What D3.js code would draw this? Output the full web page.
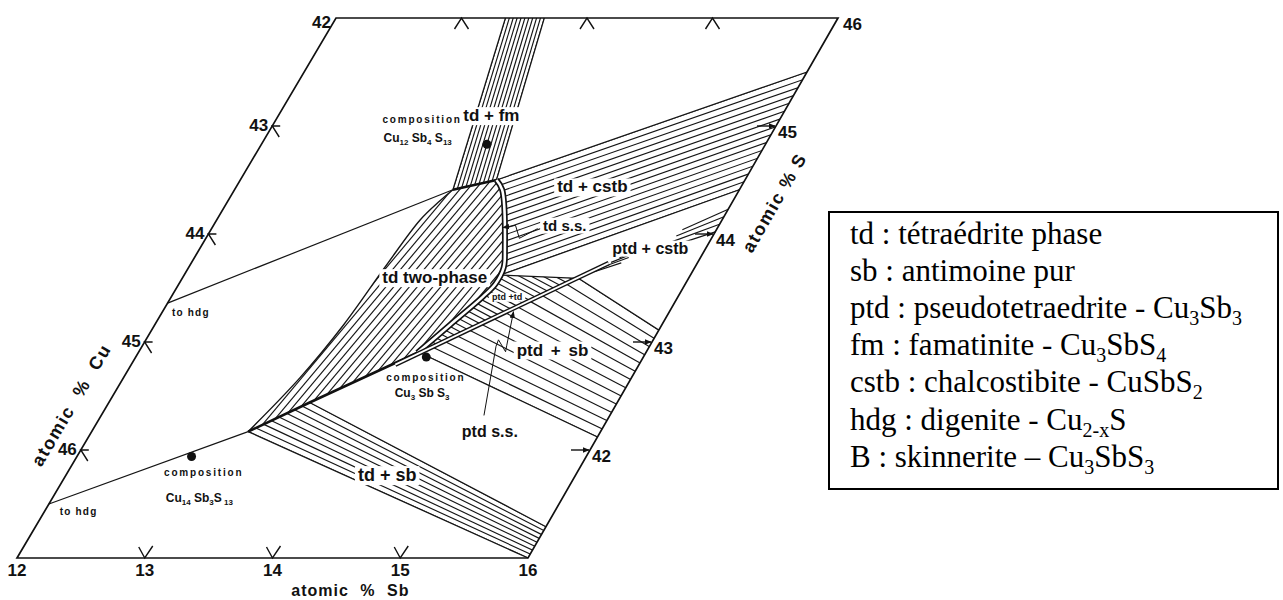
<!DOCTYPE html>
<html><head><meta charset="utf-8">
<script src="https://cdn.jsdelivr.net/npm/d3@7/dist/d3.min.js"></script>
<style>html,body{margin:0;padding:0;background:#fff;} svg{display:block;}</style>
</head><body>
<svg id="chart" width="1283" height="600"></svg>
<script>
// ===== DATA : composition coordinates [atomic % Sb, atomic % S] =====
const sbTicks      = [12, 13, 14, 15, 16];
const sbInnerTicks = [13, 14, 15];
const sTicks       = [42, 43, 44, 45];
const cuTicks      = [43, 44, 45, 46];      // atomic % Cu along the Sb = 12 edge (Cu = 88 - S)
const cornerCu     = 42;
const cornerS      = 46;

const compositions = [
  {id: "Cu12Sb4S13", sb: 13.79, s: 44.83},
  {id: "Cu3SbS3",    sb: 14.29, s: 42.86},
  {id: "Cu14Sb4S13", sb: 12.90, s: 41.94}
];

// phase boundaries
const hdgUpper  = [[12.00, 43.36], [13.73, 44.41]];
const hdgLower  = [[12.00, 41.50], [13.23, 42.17]];
const tdTwoLeft = [[13.23, 42.17], [13.39, 42.67], [13.49, 43.16], [13.55, 43.69], [13.61, 44.13], [13.68, 44.31], [13.73, 44.41]];
const tdTop     = [[13.73, 44.41], [14.03, 44.50]];
const tdssCurve = [[14.03, 44.50], [14.12, 44.41], [14.42, 43.85], [14.49, 43.69], [14.50, 43.54], [14.46, 43.42], [14.33, 43.16], [14.20, 42.90]];
const tdLower   = [[14.20, 42.90], [13.58, 42.44], [13.23, 42.17]];
const ptdSS     = [[14.08, 42.79], [15.30, 43.73]];
const tdPtdTie  = [[14.50, 43.62], [15.13, 43.59]];

// tie-line bundles (first and last tie line of each two-phase field)
const fmTies    = {from: [[13.73, 44.41], [13.35, 46.00]], to: [[14.03, 44.50], [13.66, 46.00]], n: 10};
const cstbTies  = {from: [[14.03, 44.50], [16.00, 45.50]], to: [[14.50, 43.62], [16.00, 44.41]], n: 15};
const sbTies    = {from: [[13.23, 42.17], [16.00, 41.00]], to: [[13.58, 42.44], [16.00, 41.29]], n: 8};
const ptdSbTies = {from: [[15.13, 43.59], [16.00, 43.11]], to: [[14.22, 42.90], [16.00, 42.12]], n: 13};
const ptdCstbTies = [
  [[15.14, 43.61], [16.00, 44.02]],
  [[15.19, 43.65], [16.00, 44.09]],
  [[15.24, 43.69], [16.00, 44.16]],
  [[15.29, 43.73], [16.00, 44.23]]
];

// fields
const fmPoly    = [[13.73, 44.41], [14.03, 44.50], [13.66, 46.00], [13.35, 46.00]];
const cstbPoly  = [[14.03, 44.50], [14.12, 44.41], [14.42, 43.85], [14.49, 43.69], [14.50, 43.62], [16.00, 44.41], [16.00, 45.50]];
const sbPoly    = [[13.23, 42.17], [13.58, 42.44], [16.00, 41.29], [16.00, 41.00]];
const ptdSbPoly = [[14.22, 42.90], [15.13, 43.59], [16.00, 43.11], [16.00, 42.12]];
const ptdTdPoly = [[14.20, 42.90], [14.33, 43.16], [14.46, 43.42], [14.50, 43.54], [14.50, 43.62], [15.13, 43.59], [14.22, 42.90]];
const tdTwoPoly = tdTwoLeft.concat(tdssCurve, [[13.58, 42.44]]);

// labels placed in composition coordinates
const fieldLabels = [
  {text: "td + fm",      sb: 13.69, s: 45.10, size: 17},
  {text: "td + cstb",    sb: 14.82, s: 44.44, size: 17},
  {text: "td s.s.",      sb: 14.78, s: 44.08, size: 15},
  {text: "ptd + cstb",   sb: 15.56, s: 43.87, size: 16},
  {text: "td two-phase", sb: 13.99, s: 43.60, size: 17},
  {text: "ptd +td",      sb: 14.65, s: 43.42, size: 9},
  {text: "ptd + sb",     sb: 15.25, s: 42.93, size: 17, ws: 3},
  {text: "td + sb",      sb: 14.52, s: 41.77, size: 18}
];
const plainLabels = [
  {text: "ptd s.s.", sb: 15.13, s: 42.17, size: 16, anchor: "middle"},
  {text: "to hdg",   sb: 12.08, s: 43.27, size: 10, anchor: "start", ls: 1.2},
  {text: "to hdg",   sb: 12.12, s: 41.43, size: 10, anchor: "start", ls: 1.2}
];
const compLabels = [
  {sb: 13.16, s: 45.06, fsb: 13.21, fs: 44.89, parts: [["Cu",0],["12",1],[" Sb",0],["4",1],[" S",0],["13",1]]},
  {sb: 14.38, s: 42.67, fsb: 14.42, fs: 42.53, parts: [["Cu",0],["3",1],[" Sb S",0],["3",1]]},
  {sb: 13.07, s: 41.79, fsb: 13.15, fs: 41.56, parts: [["Cu",0],["14",1],[" Sb",0],["3",1],["S",0],[" 13",1]]}
];
const tdssLeader  = [[14.58, 44.05], [14.48, 43.96], [14.39, 44.08], [14.30, 44.06]];
const ptdssLeader = [[15.01, 42.32], [14.79, 42.96], [14.78, 43.02], [14.89, 42.91], [14.87, 42.97], [14.77, 43.28]];

// legend
const legendAbbr    = ["td", "sb", "ptd", "fm", "cstb", "hdg", "B"];
const legendName    = ["tétraédrite phase", "antimoine pur", "pseudotetraedrite", "famatinite", "chalcostibite", "digenite", "skinnerite"];
const legendSep     = ["", "", " - ", " - ", " - ", " - ", " \u2013 "];
const legendFormula = [
  [], [],
  [["Cu",0],["3",1],["Sb",0],["3",1]],
  [["Cu",0],["3",1],["SbS",0],["4",1]],
  [["CuSbS",0],["2",1]],
  [["Cu",0],["2-x",1],["S",0]],
  [["Cu",0],["3",1],["SbS",0],["3",1]]
];

// ===== DRAWING =====
const svg = d3.select("#chart");
const SANS = "'Liberation Sans', Arial, Helvetica, sans-serif";
const SERIF = "'Liberation Serif', 'Times New Roman', Times, serif";

const uS   = d3.scaleLinear().domain([12, 16]).range([0, 1]);
const vS   = d3.scaleLinear().domain([41, 46]).range([0, 1]);
const xBot = d3.scaleLinear().domain([0, 1]).range([17, 528]);
const xTop = d3.scaleLinear().domain([0, 1]).range([336, 838]);
const yS   = d3.scaleLinear().domain([41, 46]).range([558, 18]);
const P = (sb, s) => { const t = uS(sb), v = vS(s); const a = xBot(t), b = xTop(t); return [a + (b - a) * v, yS(s)]; };
const pathOf  = d3.line().x(d => P(d[0], d[1])[0]).y(d => P(d[0], d[1])[1]);
const curveOf = d3.line().x(d => P(d[0], d[1])[0]).y(d => P(d[0], d[1])[1]).curve(d3.curveCatmullRom.alpha(0.5));

const defs = svg.append("defs");
defs.append("marker").attr("id", "arr").attr("viewBox", "0 0 10 10").attr("refX", 9).attr("refY", 5)
  .attr("markerWidth", 7).attr("markerHeight", 7).attr("markerUnits", "userSpaceOnUse").attr("orient", "auto")
  .append("path").attr("d", "M0,1 L10,5 L0,9 Z").attr("fill", "#111");
let clipN = 0;
function clip(poly) {
  const id = "clip" + (clipN++);
  defs.append("clipPath").attr("id", id).append("path").attr("d", pathOf(poly) + "Z");
  return `url(#${id})`;
}

const gH = svg.append("g").attr("stroke", "#151515").attr("stroke-width", 1.15).attr("fill", "none");
const gB = svg.append("g").attr("stroke", "#151515").attr("stroke-width", 1.2).attr("fill", "none");
const gBg = svg.append("g");
const gC = svg.append("g").attr("fill", "none");
const gT = svg.append("g").attr("font-family", SANS).attr("fill", "#111");
const gF = svg.append("g");

function tieHatch(b, poly) {
  const lines = d3.range(b.n + 1).map(i => {
    const t = i / b.n;
    return [0, 1].map(k => [b.from[k][0] + (b.to[k][0] - b.from[k][0]) * t, b.from[k][1] + (b.to[k][1] - b.from[k][1]) * t]);
  });
  const ext = lines.map(([a, c]) => [
    [a[0] - (c[0] - a[0]) * 0.2, a[1] - (c[1] - a[1]) * 0.2],
    [c[0] + (c[0] - a[0]) * 0.05, c[1] + (c[1] - a[1]) * 0.05]]);
  gH.append("g").attr("clip-path", clip(poly)).selectAll("path").data(ext).join("path").attr("d", pathOf);
}
function angleHatch(poly, ang, sp) {
  const pts = poly.map(d => P(d[0], d[1]));
  const r = ang * Math.PI / 180, dx = Math.cos(r), dy = Math.sin(r), nx = -dy, ny = dx;
  const ns = pts.map(p => p[0] * nx + p[1] * ny);
  const segs = d3.range(Math.ceil(d3.min(ns) / sp), Math.floor(d3.max(ns) / sp) + 1).map(k => {
    const c = k * sp;
    return [nx * c - dx * 1600, ny * c - dy * 1600, nx * c + dx * 1600, ny * c + dy * 1600];
  });
  gH.append("g").attr("clip-path", clip(poly)).selectAll("line").data(segs).join("line")
    .attr("x1", d => d[0]).attr("y1", d => d[1]).attr("x2", d => d[2]).attr("y2", d => d[3]);
}

// hatching of two-phase fields
tieHatch(fmTies, fmPoly);
tieHatch(cstbTies, cstbPoly);
tieHatch(sbTies, sbPoly);
tieHatch(ptdSbTies, ptdSbPoly);
angleHatch(tdTwoPoly, -50, 6);
angleHatch(ptdTdPoly, 28, 5.5);
// ptd + cstb: tie lines drawn only near their ends
ptdCstbTies.forEach(([a, c]) => {
  const pa = P(a[0], a[1]), pc = P(c[0], c[1]);
  const L = (f) => [pa[0] + (pc[0] - pa[0]) * f, pa[1] + (pc[1] - pa[1]) * f];
  [[0.1, 0.3], [0.62, 1]].forEach(([f0, f1]) => {
    const p0 = L(f0), p1 = L(f1);
    gH.append("line").attr("x1", p0[0]).attr("y1", p0[1]).attr("x2", p1[0]).attr("y2", p1[1]);
  });
});

// boundaries
[hdgUpper, hdgLower, fmTies.from, fmTies.to, cstbTies.from, cstbTies.to, sbTies.from, sbTies.to,
 ptdSbTies.from, ptdSbTies.to, tdPtdTie].forEach(l => gB.append("path").attr("d", pathOf(l)));
gB.append("path").attr("d", curveOf(tdTwoLeft)).attr("stroke-width", 1.4);

// field labels with white backing
function labelAt(g, d, bold) {
  const p = P(d.sb, d.s);
  const t = g.append("text").attr("x", p[0]).attr("y", p[1]).attr("dy", "0.35em")
    .attr("text-anchor", d.anchor || "middle").attr("font-size", d.size)
    .attr("font-weight", d.weight || (bold ? "bold" : "normal")).text(d.text);
  if (d.ws) t.attr("word-spacing", d.ws);
  if (d.ls) t.attr("letter-spacing", d.ls);
  return t;
}
fieldLabels.forEach(d => {
  const t = labelAt(gT, d, true);
  const bb = t.node().getBBox();
  gBg.append("rect").attr("x", bb.x - 3).attr("y", bb.y + 1).attr("width", bb.width + 6).attr("height", bb.height - 1).attr("fill", "#fff");
});
plainLabels.forEach(d => labelAt(gT, d, true));

// td s.s. (double line), td lower limit, ptd s.s.
gC.append("path").attr("d", pathOf(tdTop)).attr("stroke", "#111").attr("stroke-width", 2.6);
gC.append("path").attr("d", curveOf(tdssCurve)).attr("stroke", "#111").attr("stroke-width", 6).attr("stroke-linejoin", "round");
gC.append("path").attr("d", curveOf(tdssCurve)).attr("stroke", "#fff").attr("stroke-width", 2.6).attr("stroke-linejoin", "round");
gC.append("path").attr("d", pathOf(tdLower)).attr("stroke", "#111").attr("stroke-width", 2.6);
gC.append("path").attr("d", pathOf(ptdSS)).attr("stroke", "#111").attr("stroke-width", 4.6);
gC.append("path").attr("d", pathOf(ptdSS)).attr("stroke", "#fff").attr("stroke-width", 1.8);
gC.append("path").attr("d", pathOf(tdssLeader)).attr("stroke", "#111").attr("stroke-width", 1).attr("marker-end", "url(#arr)");
gC.append("path").attr("d", pathOf(ptdssLeader)).attr("stroke", "#111").attr("stroke-width", 1).attr("marker-end", "url(#arr)");

// composition dots and labels
gT.selectAll("circle.dot").data(compositions).join("circle").attr("class", "dot")
  .attr("cx", d => P(d.sb, d.s)[0]).attr("cy", d => P(d.sb, d.s)[1]).attr("r", 4.5).attr("fill", "#111");
function rich(sel, parts, subSize, shift) {
  let cur = 0;
  parts.forEach(([t, isSub]) => {
    const ts = sel.append("tspan").text(t);
    const target = isSub ? shift : 0;
    if (target !== cur) { ts.attr("dy", target - cur); cur = target; }
    if (isSub) ts.attr("font-size", subSize);
  });
}
compLabels.forEach(d => {
  const p = P(d.sb, d.s);
  gT.append("text").attr("x", p[0]).attr("y", p[1]).attr("dy", "0.35em").attr("text-anchor", "middle")
    .attr("font-size", 10).attr("font-weight", "bold").attr("letter-spacing", 1.8).text("composition");
  const f = P(d.fsb, d.fs);
  const t = gT.append("text").attr("x", f[0]).attr("y", f[1] + 4).attr("text-anchor", "middle")
    .attr("font-size", 12).attr("font-weight", "bold");
  rich(t, d.parts, 8, 3);
});

// frame
gF.append("path").attr("d", pathOf([[12, 41], [16, 41], [16, 46], [12, 46]]) + "Z")
  .attr("fill", "none").attr("stroke", "#111").attr("stroke-width", 1.7);
const gTick = gF.append("g").attr("fill", "none").attr("stroke", "#111").attr("stroke-width", 1.4);
sbInnerTicks.forEach(sb => {
  const [x, y] = P(sb, 41);
  gTick.append("path").attr("d", `M${x - 6},${y - 11}L${x},${y}L${x + 8},${y - 12}`);
  const [xt, yt] = P(sb, 46);
  gTick.append("path").attr("d", `M${xt - 7},${yt + 11}L${xt},${yt}L${xt + 7},${yt + 11}`);
});
sTicks.forEach(s => {
  const [x, y] = P(12, s);
  gTick.append("path").attr("d", `M${x + 8},${y}L${x},${y}L${x + 7},${y + 11}`);
  const [xr, yr] = P(16, s);
  gTick.append("path").attr("d", `M${xr - 19},${yr}L${xr - 1},${yr}`).attr("marker-end", "url(#arr)");
});

const gN = gF.append("g").attr("font-family", SANS).attr("font-weight", "bold").attr("font-size", 17).attr("fill", "#111");
sbTicks.forEach(sb => { const [x, y] = P(sb, 41); gN.append("text").attr("x", x).attr("y", y + 18).attr("text-anchor", "middle").text(sb); });
cuTicks.forEach(cu => { const [x, y] = P(12, 88 - cu); gN.append("text").attr("x", x - 4).attr("y", y + 5).attr("text-anchor", "end").text(cu); });
{ const [x, y] = P(12, 46); gN.append("text").attr("x", x - 5).attr("y", y + 10).attr("text-anchor", "end").text(cornerCu); }
sTicks.forEach(s => { const [x, y] = P(16, s); gN.append("text").attr("x", x + 2).attr("y", y + 12).text(s); });
{ const [x, y] = P(16, 46); gN.append("text").attr("x", x + 5).attr("y", y + 12).text(cornerS); }

// axis titles
{
  const [x, y] = P(14.61, 41);
  gN.append("text").attr("x", x).attr("y", y + 38).attr("text-anchor", "middle").attr("font-size", 16)
    .attr("letter-spacing", 1).attr("word-spacing", 6).text("atomic % Sb");
  const [xl, yl] = P(12, 42.27);
  gN.append("text").attr("transform", `translate(${xl},${yl}) rotate(-59.4)`).attr("dy", -25).attr("text-anchor", "middle")
    .attr("font-size", 18).attr("letter-spacing", 1.5).attr("word-spacing", 7).text("atomic % Cu");
  const [xr, yr] = P(16, 44.46);
  gN.append("text").attr("transform", `translate(${xr},${yr}) rotate(-60.1)`).attr("dy", 43).attr("text-anchor", "middle")
    .attr("font-size", 18).attr("letter-spacing", 1.5).attr("word-spacing", 0).text("atomic % S");
}

// legend
const gL = svg.append("g").attr("font-family", SERIF).attr("fill", "#000");
gL.append("rect").attr("x", 829).attr("y", 212).attr("width", 449).attr("height", 277)
  .attr("fill", "#fff").attr("stroke", "#000").attr("stroke-width", 2);
legendAbbr.forEach((a, i) => {
  const t = gL.append("text").attr("x", 850).attr("y", 244 + i * 37.1).attr("font-size", 31);
  t.append("tspan").text(a + " : " + legendName[i] + legendSep[i]);
  rich(t, legendFormula[i], 20, 7);
});
</script>
</body></html>
